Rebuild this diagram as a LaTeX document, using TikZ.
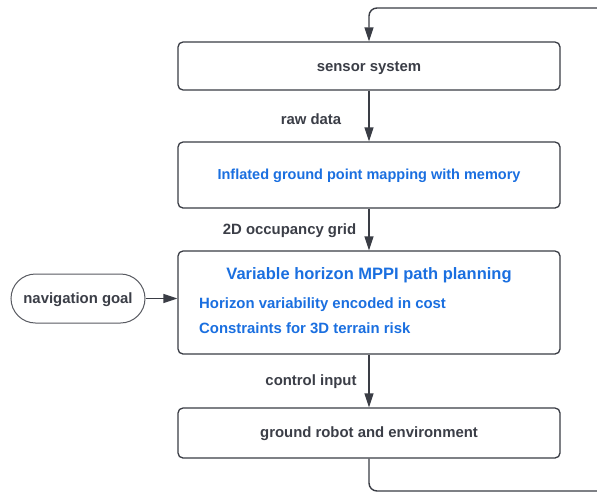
\documentclass[tikz,border=0pt]{standalone}
\usepackage{fontspec}
\setmainfont{Liberation Sans}
\usetikzlibrary{arrows.meta,shapes.misc}
\definecolor{ln}{HTML}{3A3D45}
\definecolor{tx}{HTML}{3B3E47}
\definecolor{bl}{HTML}{1A6FE0}
\begin{document}
\begin{tikzpicture}[x=1pt,y=-1pt,
  box/.style={draw=ln, line width=1.3pt, rounded corners=5pt, minimum width=382pt, inner sep=0pt, fill=white},
  lbl/.style={text=tx, font=\fontsize{14.9}{18}\selectfont\bfseries},
  blt/.style={text=bl, font=\fontsize{14.9}{18}\selectfont\bfseries},
  ttl/.style={text=bl, font=\fontsize{16.5}{20}\selectfont\bfseries},
  flow/.style={draw=ln, line width=1.4pt, -{Triangle[length=14pt,width=9pt]}},
  goalshape/.style={draw=ln!85, line width=1pt, rounded rectangle, minimum width=134pt, minimum height=49pt, inner sep=0pt}
]
\useasboundingbox (0,0) rectangle (597,493);
\clip (0,0) rectangle (597,493);
\fill[white] (0,0) rectangle (597,493);

\node[box, minimum height=48pt] (sensor) at (369,66) {};
\node[lbl] (sensortxt) at (369,68) {sensor system};
\node[box, minimum height=66pt] (map) at (369,175) {};
\node[blt, font=\fontsize{14.5}{18}\selectfont\bfseries] (maptxt) at (369,175.5) {Inflated ground point mapping with memory};
\node[box, minimum height=103pt] (plan) at (369,302.5) {};
\node[ttl] (plantitle) at (369,275) {Variable horizon MPPI path planning};
\node[blt, anchor=west, inner sep=0pt] (planA) at (199,304.5) {Horizon variability encoded in cost};
\node[blt, anchor=west, inner sep=0pt] (planB) at (199,328) {Constraints for 3D terrain risk};
\node[box, minimum height=50pt] (robot) at (369,433) {};
\node[lbl] (robottxt) at (369,434) {ground robot and environment};
\node[goalshape] (goal) at (78,298.5) {};
\node[lbl] (goaltxt) at (78,299.5) {navigation goal};

\node[lbl] (lraw) at (311,119.5) {raw data};
\node[lbl] (lgrid) at (289.5,231) {2D occupancy grid};
\node[lbl] (lctrl) at (311,381.5) {control input};

\draw[flow] (sensor.south) -- (map.north);
\draw[flow] (map.south) -- (plan.north);
\draw[flow] (plan.south) -- (robot.north);
\draw[flow] (goal.east) -- (plan.west |- goal.east);
\coordinate (loopBL) at (369,491);
\coordinate (loopBR) at (612,491);
\coordinate (loopTR) at (612,8);
\coordinate (loopTL) at (369,8);
\draw[flow, rounded corners=8pt] (robot.south) -- (loopBL) -- (loopBR) -- (loopTR) -- (loopTL) -- (sensor.north);
\end{tikzpicture}
\end{document}
